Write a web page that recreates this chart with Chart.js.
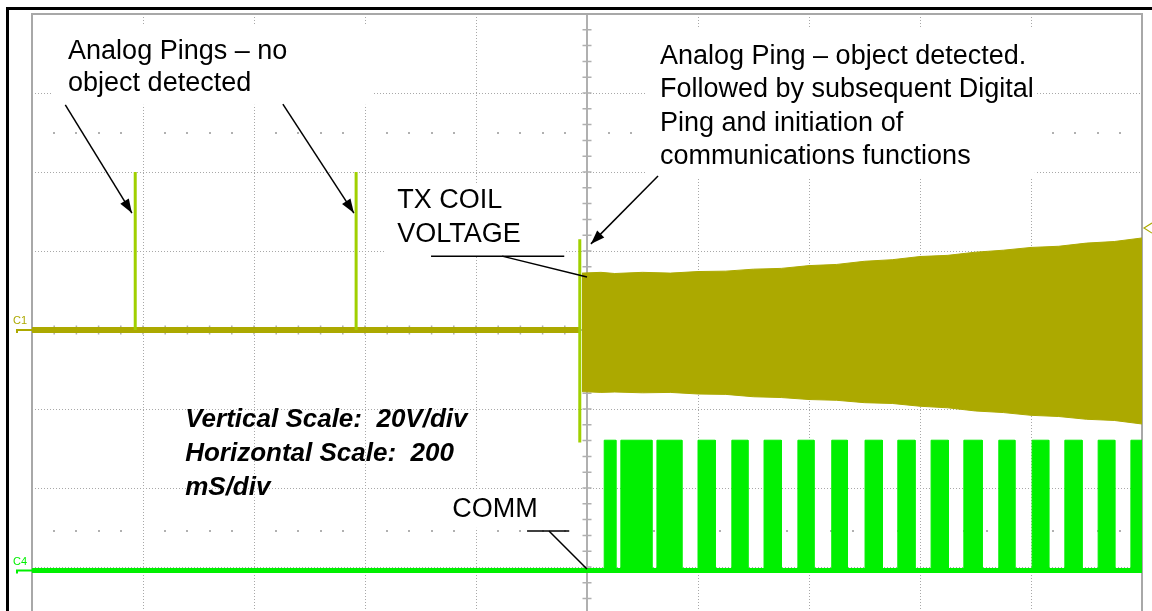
<!DOCTYPE html>
<html>
<head>
<meta charset="utf-8">
<title>TX coil voltage and COMM at start-up</title>
<script src="https://cdn.jsdelivr.net/npm/chart.js@4.4.1/dist/chart.umd.min.js"></script>
<style>
  html, body { margin: 0; padding: 0; background: #fff; overflow: hidden; }
  #view { position: relative; width: 1152px; height: 611px; overflow: hidden; background: #fff; }
  #frame { position: absolute; left: 6px; top: 7px; width: 1170px; height: 660px;
           border: 3px solid #000; box-sizing: border-box; }
  #scope { position: absolute; left: 0; top: 0; }
</style>
</head>
<body>
<div id="view">
  <div id="frame"></div>
  <canvas id="scope" width="1152" height="660"></canvas>
</div>
<script>
// ---- Timebase: ms relative to trigger, 200 ms/div. C1 at 20 V/div, C4 at 2 V/div ----

// C1: analog pings with no object present
const pingTimes = [-814, -416];
const pingPeakV = [40, 40];

// C1: analog ping that detects an object
const detectTime = -13;
const detectHighV = 23;
const detectLowV = -28.5;

// C1: idle level before power transfer starts
const idleTimes = [-1000, -13];
const idleV = [0, 0];

// C1: power-transfer carrier envelope (upper / lower peaks)
const carrierTimes = [-9, 25, 50, 100, 150, 200, 250, 300, 350, 400, 450, 500,
                      550, 600, 650, 700, 750, 800, 850, 900, 950, 1000];
const carrierMaxV = [14.4, 14.6, 14.3, 14.6, 14.4, 14.8, 14.9, 15.4, 15.6, 16.3, 16.6,
                     17.4, 17.8, 18.6, 18.9, 19.7, 20.2, 20.9, 21.2, 22.0, 22.4, 23.3];
const carrierMinV = [-15.6, -15.8, -15.7, -15.9, -15.8, -16.2, -16.3, -16.9, -17.1, -17.6, -17.8,
                     -18.4, -18.6, -19.3, -19.7, -20.5, -20.9, -21.6, -21.9, -22.6, -22.9, -23.8];

// C4: COMM packet bursts (start / end, ms) and logic high level
const commStart = [31, 61, 126, 200, 261, 319, 380, 441, 501, 560, 620, 679, 742, 802, 861, 921, 980];
const commEnd   = [52, 117, 171, 231, 290, 350, 409, 469, 532, 591, 651, 712, 771, 832, 892, 951, 1000];
const commHighV = 3.3;
const commLowV = 0;

// C1 trigger level marker
const triggerV = 25.8;

// Callouts, positioned in (ms, V) on the C1 axes
const callouts = [
  { at: [-935, 68.6], gap: 32, bold: false, lines: ['Analog Pings – no', 'object detected'] },
  { at: [131.5, 67.3], gap: 33.2, bold: false, lines: ['Analog Ping – object detected.',
      'Followed by subsequent Digital', 'Ping and initiation of', 'communications functions'] },
  { at: [-342, 30.9], gap: 34, bold: false, lines: ['TX COIL', 'VOLTAGE'] },
  { at: [-243, -47.3], gap: 34, bold: false, lines: ['COMM'] },
  { at: [-724, -24.6], gap: 34, bold: true, lines: ['Vertical Scale:  20V/div',
      'Horizontal Scale:  200', 'mS/div'] }
];
const leaders = [
  { from: [-940, 57.0], to: [-820, 29.6], head: true },
  { from: [-548, 57.2], to: [-420, 29.6], head: true },
  { from: [128, 39.0], to: [7, 21.8], head: true },
  { from: [-281, 18.7], to: [-41, 18.7], head: false },
  { from: [-153, 18.7], to: [0, 13.4], head: false },
  { from: [-108, -50.9], to: [-32, -50.9], head: false },
  { from: [-68.5, -50.9], to: [0, -60.5], head: false }
];
// blank areas behind the callout text: [t0, t1] x [v0, v1]
const calloutBacks = [
  { t: [-964, -386], v: [57, 77] },
  { t: [105, 807], v: [38.7, 76.5] },
  { t: [-364, -40], v: [18.5, 37.2] },
  { t: [-265, -76], v: [-50.1, -40.5] }
];
// half-division dotted rows
const dotRowsV = [50, -51];

const OLIVE = '#aca900';
const PING = '#a0d000';
const GREEN = '#00f000';
const GRID = '#a8a8a8';
const FONT = '"Liberation Sans", Arial, Helvetica, sans-serif';

// ---- build the point lists ----
const idlePts = idleTimes.map((t, i) => ({ x: t, y: idleV[i] }));
const pingPts = [];
pingTimes.forEach((t, i) => {
  pingPts.push({ x: t, y: 0 }, { x: t, y: pingPeakV[i] }, { x: t, y: null });
});
pingPts.push({ x: detectTime, y: detectHighV }, { x: detectTime, y: detectLowV });
const carrierTop = carrierTimes.map((t, i) => ({ x: t, y: carrierMaxV[i] }));
const carrierBottom = carrierTimes.map((t, i) => ({ x: t, y: carrierMinV[i] }));
const commPts = [{ x: -1000, y: commLowV }];
commStart.forEach((s, i) => {
  commPts.push({ x: s, y: commLowV }, { x: s, y: commHighV },
               { x: commEnd[i], y: commHighV }, { x: commEnd[i], y: commLowV });
});
commPts.push({ x: 1000, y: commLowV });

const edgeOrCentre = (v, lim) => v === 0 || Math.abs(v) === lim;

const scopeDecor = {
  id: 'scopeDecor',
  beforeDatasetsDraw(chart) {
    const { ctx, chartArea: a, scales: { x, y } } = chart;
    ctx.save();
    // dotted half-division rows
    ctx.fillStyle = '#b0b0b0';
    dotRowsV.forEach(v => {
      const py = Math.round(y.getPixelForValue(v));
      for (let t = -960; t < 1000; t += 40) {
        if (t % 200 === 0) continue;
        ctx.fillRect(Math.round(x.getPixelForValue(t)) - 1, py - 1, 2, 2);
      }
    });
    // white areas behind callout text
    ctx.fillStyle = '#fff';
    calloutBacks.forEach(b => {
      const x0 = x.getPixelForValue(b.t[0]), x1 = x.getPixelForValue(b.t[1]);
      const y0 = y.getPixelForValue(b.v[1]), y1 = y.getPixelForValue(b.v[0]);
      ctx.fillRect(x0, y0, x1 - x0, y1 - y0);
    });
    // centre cross with minor ticks
    const cx = x.getPixelForValue(0), cy = y.getPixelForValue(0);
    ctx.strokeStyle = '#b0b0b0';
    ctx.lineWidth = 2;
    ctx.beginPath();
    ctx.moveTo(cx, a.top); ctx.lineTo(cx, a.bottom);
    ctx.moveTo(a.left, cy); ctx.lineTo(a.right, cy);
    ctx.stroke();
    ctx.lineWidth = 1.5;
    ctx.beginPath();
    for (let v = -80; v <= 80; v += 4) {
      const py = y.getPixelForValue(v);
      ctx.moveTo(cx - 4.5, py); ctx.lineTo(cx + 4.5, py);
    }
    for (let t = -1000; t <= 1000; t += 40) {
      const px = x.getPixelForValue(t);
      ctx.moveTo(px, cy - 4.5); ctx.lineTo(px, cy + 4.5);
    }
    ctx.stroke();
    // graticule outline
    ctx.strokeStyle = GRID;
    ctx.lineWidth = 2;
    ctx.strokeRect(a.left, a.top, a.right - a.left, a.bottom - a.top);
    ctx.restore();
  },
  afterDatasetsDraw(chart) {
    const { ctx, chartArea: a, scales: { x, y, yC4 } } = chart;
    ctx.save();
    // channel ground markers
    const marker = (py, color, name) => {
      ctx.strokeStyle = color; ctx.fillStyle = color; ctx.lineWidth = 2;
      ctx.beginPath();
      ctx.moveTo(17, py + 3); ctx.lineTo(17, py); ctx.lineTo(a.left, py);
      ctx.stroke();
      ctx.font = '11px ' + FONT;
      ctx.textBaseline = 'alphabetic';
      ctx.fillText(name, 13, py - 6);
    };
    marker(y.getPixelForValue(0), OLIVE, 'C1');
    marker(yC4.getPixelForValue(0), GREEN, 'C4');
    // trigger level marker
    const ty = y.getPixelForValue(triggerV);
    ctx.strokeStyle = OLIVE; ctx.lineWidth = 1.2;
    ctx.beginPath();
    ctx.moveTo(a.right + 10, ty - 5); ctx.lineTo(a.right + 2, ty); ctx.lineTo(a.right + 10, ty + 5);
    ctx.stroke();
    // leader lines and arrows
    ctx.strokeStyle = '#000'; ctx.fillStyle = '#000'; ctx.lineWidth = 1.5;
    leaders.forEach(l => {
      const x0 = x.getPixelForValue(l.from[0]), y0 = y.getPixelForValue(l.from[1]);
      const x1 = x.getPixelForValue(l.to[0]), y1 = y.getPixelForValue(l.to[1]);
      ctx.beginPath(); ctx.moveTo(x0, y0); ctx.lineTo(x1, y1); ctx.stroke();
      if (l.head) {
        const ang = Math.atan2(y1 - y0, x1 - x0), L = 14, W = 5;
        const bx = x1 - L * Math.cos(ang), by = y1 - L * Math.sin(ang);
        ctx.beginPath();
        ctx.moveTo(x1, y1);
        ctx.lineTo(bx + W * Math.sin(ang), by - W * Math.cos(ang));
        ctx.lineTo(bx - W * Math.sin(ang), by + W * Math.cos(ang));
        ctx.closePath(); ctx.fill();
      }
    });
    // callout text
    ctx.textBaseline = 'alphabetic';
    callouts.forEach(c => {
      ctx.font = (c.bold ? 'italic bold 26px ' : '27px ') + FONT;
      const px = x.getPixelForValue(c.at[0]), py = y.getPixelForValue(c.at[1]);
      c.lines.forEach((s, i) => ctx.fillText(s, px, py + i * c.gap));
    });
    ctx.restore();
  }
};

new Chart(document.getElementById('scope').getContext('2d'), {
  type: 'line',
  data: {
    datasets: [
      { label: 'C1 pings', data: pingPts, borderColor: PING, borderWidth: 3,
        spanGaps: false, fill: false, yAxisID: 'y' },
      { label: 'C1 idle', data: idlePts, borderColor: OLIVE, borderWidth: 6,
        fill: false, yAxisID: 'y' },
      { label: 'C1 carrier max', data: carrierTop, borderColor: OLIVE, backgroundColor: OLIVE,
        borderWidth: 1, fill: '+1', yAxisID: 'y' },
      { label: 'C1 carrier min', data: carrierBottom, borderColor: OLIVE, borderWidth: 1,
        fill: false, yAxisID: 'y' },
      { label: 'C4 COMM', data: commPts, borderColor: GREEN, backgroundColor: GREEN,
        borderWidth: 1, fill: 'origin', yAxisID: 'yC4' },
      { label: 'C4 idle', data: [{ x: -1000, y: commLowV }, { x: 1000, y: commLowV }],
        borderColor: GREEN, borderWidth: 5, fill: false, yAxisID: 'yC4' }
    ]
  },
  options: {
    responsive: false,
    animation: false,
    events: [],
    layout: { padding: { left: 32, top: 14, right: 10, bottom: 14 } },
    elements: { point: { radius: 0 }, line: { tension: 0, borderCapStyle: 'butt' } },
    plugins: { legend: { display: false }, tooltip: { enabled: false } },
    scales: {
      x: {
        type: 'linear', min: -1000, max: 1000,
        ticks: { display: false, stepSize: 200 },
        grid: { drawTicks: false, lineWidth: 1,
                color: c => edgeOrCentre(c.tick.value, 1000) ? 'rgba(0,0,0,0)' : GRID },
        border: { display: false, dash: [1, 2] }
      },
      y: {
        type: 'linear', min: -80, max: 80,
        ticks: { display: false, stepSize: 20 },
        grid: { drawTicks: false, lineWidth: 1,
                color: c => edgeOrCentre(c.tick.value, 80) ? 'rgba(0,0,0,0)' : GRID },
        border: { display: false, dash: [1, 2] }
      },
      yC4: { type: 'linear', display: false, min: -1.91, max: 14.09 }
    }
  },
  plugins: [scopeDecor]
});
</script>
</body>
</html>
